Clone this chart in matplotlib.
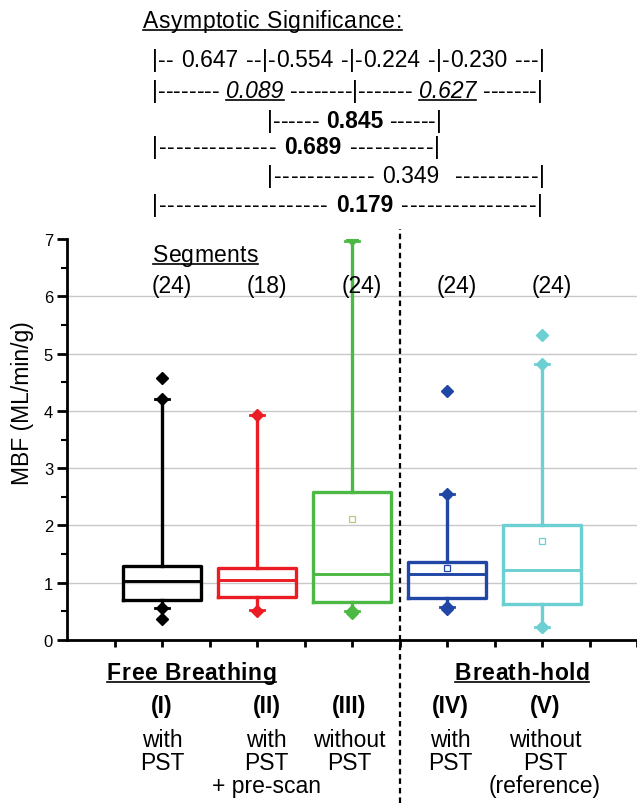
import re
import numpy as np
import matplotlib
matplotlib.use('Agg')
import matplotlib.pyplot as plt
from matplotlib.lines import Line2D
from matplotlib.transforms import blended_transform_factory

plt.rcParams['font.family'] = ['Liberation Sans', 'DejaVu Sans']

# box statistics (MBF in ML/min/g)
groups = ['(I)', '(II)', '(III)', '(IV)', '(V)']
segments = [24, 18, 24, 24, 24]
whislo = [0.56, 0.52, 0.50, 0.57, 0.23]
q1 = [0.69, 0.75, 0.67, 0.73, 0.63]
med = [1.03, 1.04, 1.15, 1.16, 1.22]
q3 = [1.30, 1.25, 2.59, 1.36, 2.00]
whishi = [4.20, 3.92, 6.97, 2.55, 4.82]
means = [None, None, 2.11, 1.25, 1.73]
extremes = [
    [4.58, 4.20, 0.56, 0.36],
    [3.92, 0.51],
    [7.00, 0.50, 0.48],
    [4.35, 2.55, 0.58, 0.54],
    [5.32, 4.82, 0.23, 0.23],
]
row1 = ['with', 'with', 'without', 'with', 'without']
row2 = ['PST', 'PST', 'PST', 'PST', 'PST']
row3 = ['', '+ pre-scan', '', '', '(reference)']

# asymptotic significance (p values)
p_adjacent = [0.647, 0.554, 0.224, 0.230]
p_I_III, p_III_V = 0.089, 0.627
p_II_IV, p_I_IV, p_II_V, p_I_V = 0.845, 0.689, 0.349, 0.179

colors = ['black', '#ec1c24', '#4cb944', '#2047a6', '#6ccfd2']
mean_colors = ['black', '#ec1c24', '#c4c27a', '#2047a6', '#6ccfd2']

W, H = 637, 804
FS = 16.5
fig = plt.figure(figsize=(W / 100, H / 100), dpi=100)
ax = fig.add_axes([67 / W, (H - 641) / H, 570 / W, 401 / H])
renderer = fig.canvas.get_renderer()

positions = np.arange(1, len(groups) + 1)
for i, pos in enumerate(positions):
    c = colors[i]
    st = dict(whislo=whislo[i], q1=q1[i], med=med[i], q3=q3[i],
              whishi=whishi[i], fliers=[])
    ax.bxp([st], positions=[pos], widths=0.82, capwidths=0.14,
           showfliers=False,
           boxprops=dict(color=c, lw=2.4),
           whiskerprops=dict(color=c, lw=2.4),
           capprops=dict(color=c, lw=2.0),
           medianprops=dict(color=c, lw=2.1))
    ax.plot([pos] * len(extremes[i]), extremes[i], 'D', color=c, ms=6.5,
            zorder=4)
    if means[i] is not None:
        ax.plot(pos, means[i], 's', mfc='white', mec=mean_colors[i], ms=4,
                mew=0.9, zorder=4)
    ax.text(pos + 0.1, 6.07, f'({segments[i]})', ha='center',
            va='baseline', fontsize=FS)

for y in range(1, 7):
    ax.axhline(y, color='#c8c8c8', lw=1, zorder=0)

ax.axvline(3.5, ymin=-0.406, ymax=1.025, clip_on=False, color='black',
           lw=1.6, ls=(0, (2.5, 1.8)))

ax.set_xlim(0, 6)
ax.set_ylim(0, 7)
ax.set_yticks(range(8))
ax.set_yticks(np.arange(0.5, 7, 1), minor=True)
ax.set_xticks(np.arange(0.5, 6.01, 0.5))
ax.set_xticklabels([])
ax.tick_params(axis='y', which='major', length=7, width=2, labelsize=12,
               pad=3)
ax.tick_params(axis='y', which='minor', length=4, width=1.5)
ax.tick_params(axis='x', length=5, width=2)
for side in ['top', 'right']:
    ax.spines[side].set_visible(False)
for side in ['left', 'bottom']:
    ax.spines[side].set_linewidth(2)
ax.set_ylabel('MBF (ML/min/g)', fontsize=FS)
ax.yaxis.set_label_coords(-0.058, 0.594)

_cache = {}


def token_width(s, props):
    key = (s, props['fontweight'], props['fontstyle'])
    if key not in _cache:
        t = fig.text(0, 0, '|' + s + '|', **props)
        w = t.get_window_extent(renderer).width
        t.remove()
        t = fig.text(0, 0, '||', **props)
        w -= t.get_window_extent(renderer).width
        t.remove()
        _cache[key] = w
    return _cache[key]


def spread_line(runs, x0, x1, base, size=FS):
    # lay the text out between x0 and x1 (pixels), letters evenly spaced
    tokens = []
    for k, (s, style) in enumerate(runs):
        props = dict(fontsize=size,
                     fontweight='bold' if 'b' in style else 'normal',
                     fontstyle='italic' if 'i' in style else 'normal')
        for tok in re.findall(r'\d+\.\d+|.', s):
            tokens.append((tok, props, k))
    widths = [token_width(t, p) for t, p, _ in tokens]
    gap = (x1 - x0 - sum(widths)) / (len(tokens) - 1)
    spans = {}
    x = x0
    for (tok, props, k), w in zip(tokens, widths):
        if tok.strip():
            fig.text(x / W, 1 - base / H, tok, va='baseline', **props)
            a, b = spans.get(k, (x, x + w))
            spans[k] = (min(a, x), x + w)
        x += w + gap
    for k, (s, style) in enumerate(runs):
        if 'u' in style:
            a, b = spans[k]
            fig.add_artist(Line2D([a / W, b / W], [1 - (base + 3) / H] * 2,
                                  transform=fig.transFigure, color='black',
                                  lw=1.2))


def fmt(p):
    return f'{p:.3f}'


spread_line([('Asymptotic Significance:', 'u')], 143, 402, 28)
sig_lines = [
    ([(f'|-- {fmt(p_adjacent[0])} --|-{fmt(p_adjacent[1])} -|-'
       f'{fmt(p_adjacent[2])} -|-{fmt(p_adjacent[3])} ---|', '')],
     152, 545, 67),
    ([('|-------- ', ''), (fmt(p_I_III), 'iu'), (' --------|------- ', ''),
      (fmt(p_III_V), 'iu'), (' -------|', '')], 152, 543, 98),
    ([('|------ ', ''), (fmt(p_II_IV), 'b'), (' ------|', '')],
     267, 442, 128),
    ([('|-------------- ', ''), (fmt(p_I_IV), 'b'), (' ----------|', '')],
     152, 440, 154),
    ([(f'|------------ {fmt(p_II_V)}  ----------|', '')], 267, 545, 183),
    ([('|-------------------- ', ''), (fmt(p_I_V), 'b'),
      (' ----------------|', '')], 152, 543, 212),
]
for runs, x0, x1, base in sig_lines:
    spread_line(runs, x0, x1, base)

spread_line([('Segments', 'u')], 153, 258, 262)
spread_line([('Free Breathing', 'bu')], 107, 276, 680)
spread_line([('Breath-hold', 'bu')], 455, 589, 680)

trans = blended_transform_factory(ax.transData, fig.transFigure)
label_x = [1.0, 2.1, 2.97, 4.03, 5.03]
for i, x in enumerate(label_x):
    ax.text(x, 1 - 713 / H, groups[i], transform=trans, ha='center',
            va='baseline', fontsize=FS, fontweight='bold')
    ax.text(x, 1 - 747 / H, row1[i], transform=trans, ha='center',
            va='baseline', fontsize=FS)
    ax.text(x, 1 - 770 / H, row2[i], transform=trans, ha='center',
            va='baseline', fontsize=FS)
    if row3[i]:
        ax.text(x, 1 - 793 / H, row3[i], transform=trans, ha='center',
                va='baseline', fontsize=FS)

fig.savefig('out.png', dpi=100)
plt.close(fig)
